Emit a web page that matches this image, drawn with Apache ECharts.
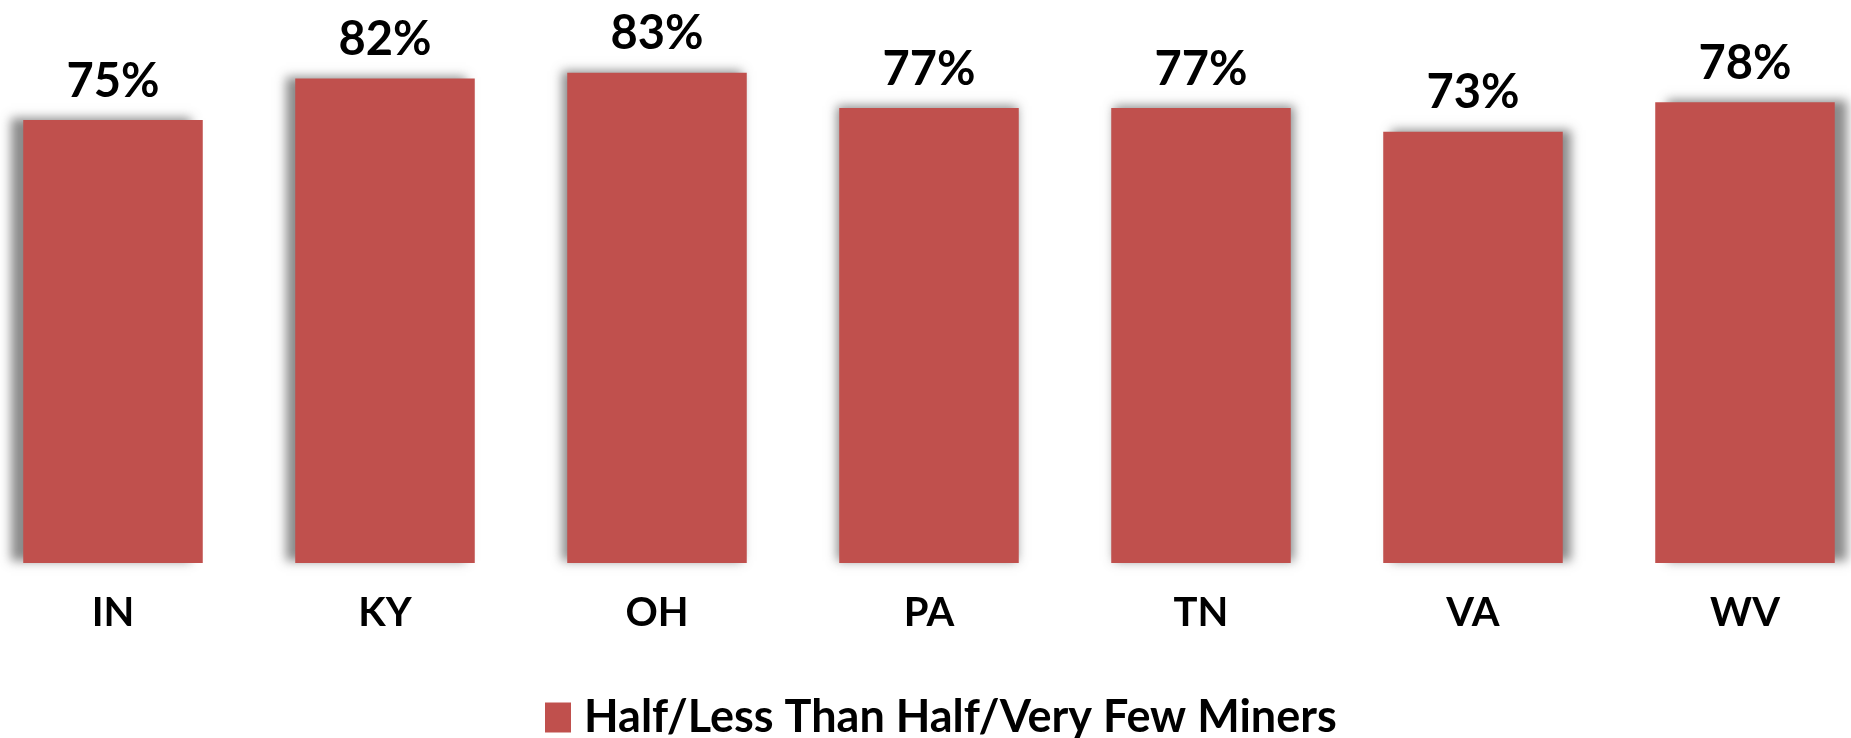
<!DOCTYPE html>
<html>
<head>
<meta charset="utf-8">
<script src="https://cdn.jsdelivr.net/npm/echarts@6/dist/echarts.min.js"></script>
<style>
html,body{margin:0;padding:0;background:#fff;}
#chart{width:1851px;height:738px;}
</style>
</head>
<body>
<div id="chart"></div>
<script>
const categories = ['IN', 'KY', 'OH', 'PA', 'TN', 'VA', 'WV'];
const seriesName = 'Half/Less Than Half/Very Few Miners';
const values = [75, 82, 83, 77, 77, 73, 78];
const shadowShift = [-12, -9, -5, -2, 3, 8, 12];

const chart = echarts.init(document.getElementById('chart'));
chart.setOption({
  animation: false,
  backgroundColor: '#ffffff',
  grid: { left: 113, right: 106, top: 0, bottom: 175, containLabel: false },
  legend: {
    data: [{ name: seriesName, icon: 'rect' }],
    top: 695,
    left: 545,
    padding: 0,
    itemWidth: 26,
    itemHeight: 30,
    itemGap: 8,
    textStyle: { fontFamily: 'Lato, sans-serif', fontWeight: 'bold', fontSize: 45, color: '#000', padding: [0, 0, 0, 8] }
  },
  xAxis: {
    type: 'category',
    data: categories,
    boundaryGap: false,
    axisLine: { show: false },
    axisTick: { show: false },
    axisLabel: { margin: 30, fontFamily: 'Lato, sans-serif', fontWeight: 'bold', fontSize: 40, color: '#000' }
  },
  yAxis: {
    type: 'value',
    min: 0,
    max: 95.3,
    show: false,
    splitLine: { show: false }
  },
  series: [{
    name: seriesName,
    type: 'bar',
    barCategoryGap: '34%',
    data: values.map((v, i) => ({
      value: v,
      itemStyle: { shadowOffsetX: shadowShift[i] }
    })),
    itemStyle: {
      color: '#C0504D',
      shadowColor: 'rgba(90,90,90,0.7)',
      shadowBlur: 10,
      shadowOffsetY: -2
    },
    label: {
      show: true,
      position: 'top',
      distance: 15,
      formatter: p => p.value + '%',
      fontFamily: 'Lato, sans-serif',
      fontWeight: 'bold',
      fontSize: 47,
      color: '#000'
    }
  }]
});
</script>
</body>
</html>
